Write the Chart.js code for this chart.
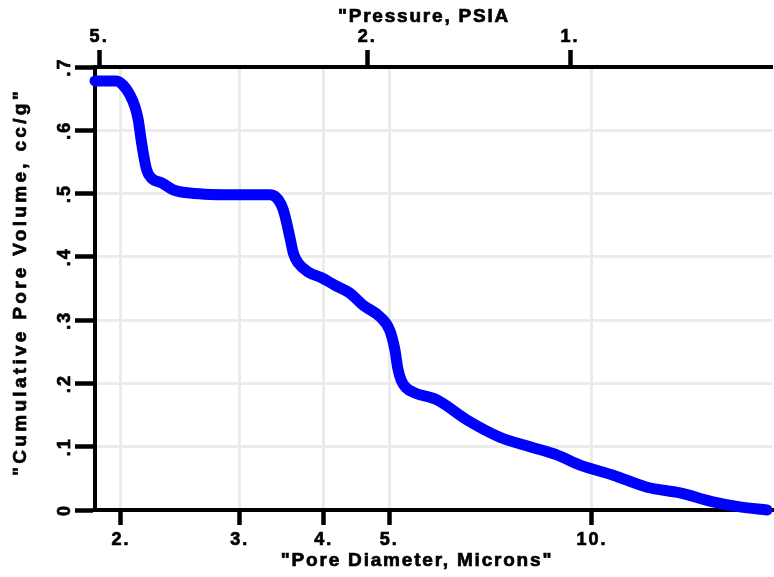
<!DOCTYPE html>
<html>
<head>
<meta charset="utf-8">
<title>Cumulative Pore Volume</title>
<script src="https://cdn.jsdelivr.net/npm/chart.js@4/dist/chart.umd.min.js"></script>
<style>
    html, body { margin: 0; padding: 0; background: #fff; }
    #wrap { width: 774px; height: 577px; }
</style>
</head>
<body>
<div id="wrap"><canvas id="pore-chart"></canvas></div>
<script>
// Intrusion curve: pore diameter (microns) vs cumulative pore volume (cc/g)
const diameters = [1.83, 1.97, 2.016, 2.062, 2.098, 2.122, 2.139, 2.158, 2.184, 2.221, 2.298, 2.391, 2.53,
    3.0, 3.33, 3.425, 3.483, 3.524, 3.563, 3.604, 3.666, 3.794, 3.97, 4.157, 4.37, 4.57, 4.85, 5.01, 5.10,
    5.15, 5.21, 5.30, 5.46, 5.89, 6.53, 7.30, 8.09, 8.87, 9.60, 10.75, 12.07, 13.51, 15.12, 16.58, 18.19];
const volumes = [0.678, 0.678, 0.671, 0.656, 0.637, 0.616, 0.590, 0.564, 0.537, 0.524, 0.517, 0.506, 0.501,
    0.498, 0.498, 0.490, 0.474, 0.453, 0.430, 0.406, 0.390, 0.376, 0.367, 0.355, 0.343, 0.324, 0.305, 0.284, 0.253,
    0.224, 0.205, 0.193, 0.185, 0.174, 0.142, 0.115, 0.100, 0.087, 0.071, 0.055, 0.036, 0.027, 0.013, 0.005, 0.0];

// Axis ticks
const diameterTicks = [2, 3, 4, 5, 10];
const pressureTicks = [5, 2, 1];
const volumeTicks = [0, 0.1, 0.2, 0.3, 0.4, 0.5, 0.6, 0.7];
const diameterMin = 1.83;
const diameterMax = 18.5;
const pressureTimesDiameter = 9.28; // pressure (PSIA) = this / diameter (microns)

const xTitle = '"Pore Diameter, Microns"';
const topTitle = '"Pressure, PSIA';
const yTitle = '"Cumulative Pore Volume, cc/g"';

const FONT = '"Liberation Sans", Arial, Helvetica, sans-serif';
Chart.defaults.font.family = FONT;
Chart.defaults.color = '#000';

/**
 * Wider letter spacing for every label drawn on the canvas
 */
const spacingPlugin = {
    id: 'spacing',
    beforeDraw(chart) {
        chart.ctx.letterSpacing = '2px';
    }
};

/**
 * Draw text filled plus a thin stroke so it looks heavier
 */
function boldText(ctx, text, x, y) {
    ctx.fillText(text, x, y);
    ctx.strokeText(text, x, y);
}

/**
 * Rotated y tick labels and the three axis titles
 */
const labelsPlugin = {
    id: 'labels',
    afterDraw(chart) {
        const ctx = chart.ctx;
        const y = chart.scales.y;

        ctx.save();
        ctx.fillStyle = '#000';
        ctx.strokeStyle = '#000';
        ctx.lineWidth = 0.7;
        ctx.font = 'bold 18px ' + FONT;
        ctx.letterSpacing = '2px';
        ctx.textAlign = 'center';
        ctx.textBaseline = 'alphabetic';
        y.ticks.forEach(function(t) {
            const py = y.getPixelForValue(t.value);
            const label = t.value === 0 ? '0' : t.value.toFixed(1).replace('0.', '.');
            ctx.save();
            ctx.translate(70, py);
            ctx.rotate(-Math.PI / 2);
            boldText(ctx, label, 0, 0);
            ctx.restore();
        });

        // axis titles
        ctx.font = 'bold 19px ' + FONT;
        ctx.letterSpacing = '1.8px';
        ctx.textBaseline = 'middle';
        boldText(ctx, xTitle, 417, 561);
        boldText(ctx, topTitle, 424, 17);

        ctx.letterSpacing = '3.3px';
        ctx.translate(21, 282);
        ctx.rotate(-Math.PI / 2);
        boldText(ctx, yTitle, 0, 0);
        ctx.restore();
    }
};

const points = diameters.map(function(d, i) {
    return { x: d, y: volumes[i] };
});

const tickFont = { size: 18, weight: 'bold' };

const config = {
    type: 'line',
    data: {
        datasets: [{
            label: 'Cumulative Pore Volume',
            data: points,
            borderColor: '#0000ff',
            borderWidth: 11,
            borderCapStyle: 'round',
            borderJoinStyle: 'round',
            cubicInterpolationMode: 'monotone',
            pointRadius: 0,
            fill: false,
            clip: false
        }]
    },
    options: {
        responsive: true,
        maintainAspectRatio: false,
        animation: false,
        layout: {
            padding: { left: 0, right: 2, top: 0, bottom: 0 }
        },
        plugins: {
            legend: { display: false },
            tooltip: { enabled: false }
        },
        scales: {
            x: {
                type: 'logarithmic',
                position: 'bottom',
                min: diameterMin,
                max: diameterMax,
                afterBuildTicks: function(scale) {
                    scale.ticks = diameterTicks.map(v => ({ value: v }));
                },
                afterFit: function(scale) {
                    scale.height = 67;
                },
                border: { display: true, color: '#000', width: 4 },
                grid: {
                    color: '#ebebeb',
                    lineWidth: 3,
                    z: -1,
                    tickLength: 15,
                    tickColor: '#000',
                    tickWidth: 4.5
                },
                ticks: {
                    autoSkip: false,
                    maxRotation: 0,
                    padding: 4,
                    font: tickFont,
                    textStrokeColor: '#000',
                    textStrokeWidth: 0.7,
                    callback: function(value) {
                        return value + '.';
                    }
                }
            },
            x2: {
                axis: 'x',
                type: 'logarithmic',
                position: 'top',
                reverse: true,
                min: pressureTimesDiameter / diameterMax,
                max: pressureTimesDiameter / diameterMin,
                afterBuildTicks: function(scale) {
                    scale.ticks = pressureTicks.map(v => ({ value: v }));
                },
                afterFit: function(scale) {
                    scale.height = 67;
                },
                border: { display: true, color: '#000', width: 4 },
                grid: {
                    drawOnChartArea: false,
                    z: -1,
                    tickLength: 17,
                    tickColor: '#000',
                    tickWidth: 4.5
                },
                ticks: {
                    autoSkip: false,
                    maxRotation: 0,
                    padding: 2,
                    font: tickFont,
                    textStrokeColor: '#000',
                    textStrokeWidth: 0.7,
                    callback: function(value) {
                        return value + '.';
                    }
                }
            },
            y: {
                type: 'linear',
                position: 'left',
                min: 0,
                max: 0.7,
                afterBuildTicks: function(scale) {
                    scale.ticks = volumeTicks.map(v => ({ value: v }));
                },
                afterFit: function(scale) {
                    scale.width = 95;
                },
                border: { display: true, color: '#000', width: 4 },
                grid: {
                    color: '#ebebeb',
                    lineWidth: 3,
                    z: -1,
                    tickLength: 20,
                    tickColor: '#000',
                    tickWidth: 4.5
                },
                ticks: { display: false }
            }
        }
    },
    plugins: [spacingPlugin, labelsPlugin]
};

new Chart(document.getElementById('pore-chart'), config);
</script>
</body>
</html>
